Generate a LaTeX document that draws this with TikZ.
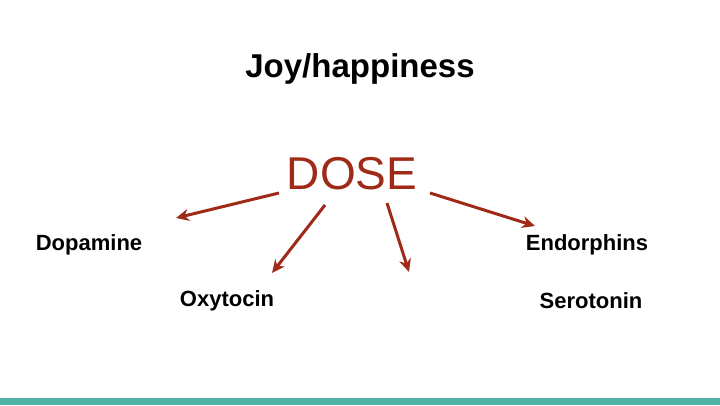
\documentclass[tikz,border=0pt]{standalone}
\usepackage{fontspec}
\usetikzlibrary{arrows.meta}
\setmainfont{Liberation Sans}
\definecolor{arr}{HTML}{9E2A17}
\definecolor{bar}{HTML}{4FB3A6}
\begin{document}
\begin{tikzpicture}[x=1pt,y=-1pt,
  lbl/.style={font=\fontsize{22}{26}\selectfont\bfseries,anchor=center},
  arrw/.style={draw=arr,line width=3pt,-{Stealth[length=13pt,width=12pt]}}]
\useasboundingbox (0,0) rectangle (720,405);
\fill[bar] (0,398) rectangle (720,405);
\node[font=\fontsize{33}{38}\selectfont\bfseries] (joy) at (360,69) {Joy/happiness};
\node[font=\fontsize{46}{50}\selectfont,text=arr] (dose) at (352,174) {DOSE};
\node[lbl] (dop) at (89,245) {Dopamine};
\node[lbl] (end) at (587,245) {Endorphins};
\node[lbl] (oxy) at (227,301) {Oxytocin};
\node[lbl] (ser) at (591,301) {Serotonin};
\coordinate (a1) at (279,193); \coordinate (b1) at (176,218);
\coordinate (a2) at (325,205); \coordinate (b2) at (272,273);
\coordinate (a3) at (387,203); \coordinate (b3) at (409,272);
\coordinate (a4) at (430,193); \coordinate (b4) at (535,226);
\draw[arrw] (a1) -- (b1);
\draw[arrw] (a2) -- (b2);
\draw[arrw] (a3) -- (b3);
\draw[arrw] (a4) -- (b4);
\end{tikzpicture}
\end{document}
